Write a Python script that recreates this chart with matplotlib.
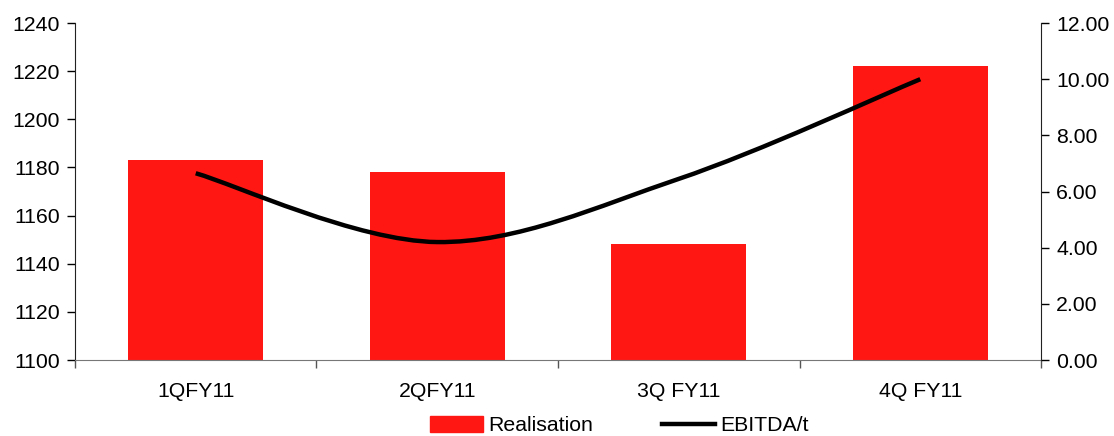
import matplotlib.pyplot as plt
from matplotlib.path import Path
from matplotlib.patches import PathPatch
from matplotlib.lines import Line2D
from matplotlib.ticker import FormatStrFormatter
import numpy as np

plt.rcParams['font.family'] = ['Liberation Sans', 'DejaVu Sans']

quarters = ['1QFY11', '2QFY11', '3Q FY11', '4Q FY11']
realisation = [1183, 1178, 1148, 1222]
ebitda_t = [6.65, 4.2, 6.45, 10.0]

bar_color = '#FF1714'
fs = 15.3


def smooth_path(xs, ys):
    # Excel-style smoothed line: Catmull-Rom turned into cubic Bezier segments
    pts = np.column_stack([xs, ys]).astype(float)
    verts = [pts[0]]
    codes = [Path.MOVETO]
    n = len(pts)
    for i in range(n - 1):
        p0 = pts[i - 1] if i > 0 else pts[i]
        p1 = pts[i]
        p2 = pts[i + 1]
        p3 = pts[i + 2] if i + 2 < n else pts[i + 1]
        c1 = p1 + (p2 - p0) / 6.0
        c2 = p2 - (p3 - p1) / 6.0
        verts += [c1, c2, p2]
        codes += [Path.CURVE4] * 3
    return Path(verts, codes)


fig = plt.figure(figsize=(11.14, 4.36), dpi=100)
ax = fig.add_axes([0.0673, 0.1743, 0.8672, 0.7729])
x = np.arange(len(quarters))

ax.bar(x, realisation, width=0.56, color=bar_color, zorder=2)
ax.set_xlim(-0.5, len(quarters) - 0.5)
ax.set_ylim(1100, 1240)
ax.set_yticks(np.arange(1100, 1241, 20))
ax.set_xticks(x)
ax.set_xticklabels(quarters)
ax.set_xticks(np.arange(-0.5, len(quarters), 1.0), minor=True)
ax.tick_params(axis='x', which='major', length=0, pad=16, labelsize=fs)
ax.tick_params(axis='x', which='minor', length=6, width=1, color='#555555')
ax.tick_params(axis='y', length=6, width=1, labelsize=fs, pad=5)

for s in ['top', 'right']:
    ax.spines[s].set_visible(False)
ax.spines['bottom'].set_color('#777777')
ax.spines['left'].set_color('#222222')

ax2 = ax.twinx()
ax2.set_ylim(0, 12)
ax2.set_yticks(np.arange(0, 12.01, 2))
ax2.yaxis.set_major_formatter(FormatStrFormatter('%.2f'))
ax2.tick_params(axis='y', length=6, width=1, labelsize=fs, pad=5)
for s in ['top', 'left', 'bottom']:
    ax2.spines[s].set_visible(False)
ax2.spines['right'].set_color('#222222')

line_patch = PathPatch(smooth_path(x, ebitda_t), facecolor='none',
                       edgecolor='black', linewidth=3.2, capstyle='butt', zorder=3)
ax2.add_patch(line_patch)

handles = [plt.Rectangle((0, 0), 1, 1, color=bar_color),
           Line2D([0], [0], color='black', linewidth=3.2)]
fig.legend(handles, ['Realisation', 'EBITDA/t'], loc='center',
           bbox_to_anchor=(0.556, 0.024), ncol=2, frameon=False,
           fontsize=fs, handlelength=2.5, handleheight=0.75,
           handletextpad=0.25, columnspacing=3.2)

fig.savefig('out.png', dpi=100)
